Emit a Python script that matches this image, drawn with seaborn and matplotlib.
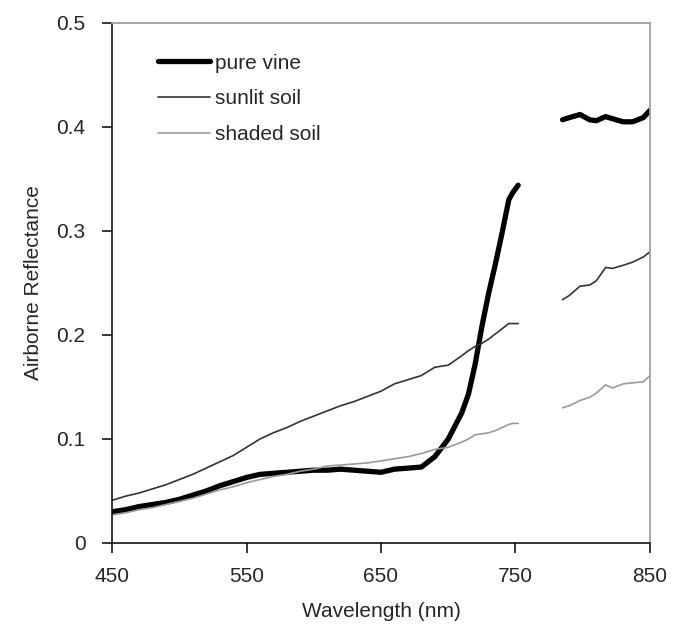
import matplotlib
matplotlib.use("Agg")
import matplotlib.pyplot as plt
import numpy as np
import pandas as pd
import seaborn as sns

# wavelengths (nm) - two measured bands, gap in between (water absorption / sensor gap)
wl_band1 = [450, 460, 470, 480, 490, 500, 510, 520, 530, 540, 550, 560, 570, 580,
            590, 600, 610, 620, 630, 640, 650, 660, 670, 680, 690, 700, 710,
            715, 720, 725, 730, 735, 740, 745, 748, 752]
wl_band2 = [785, 790, 798, 805, 810, 817, 822, 830, 837, 845, 850]

vine_band1 = [0.030, 0.032, 0.035, 0.037, 0.039, 0.042, 0.046, 0.050, 0.055, 0.059,
              0.063, 0.066, 0.067, 0.068, 0.069, 0.070, 0.070, 0.071, 0.070, 0.069,
              0.068, 0.071, 0.072, 0.073, 0.083, 0.100, 0.125,
              0.143, 0.172, 0.208, 0.240, 0.268, 0.298, 0.330, 0.337, 0.344]
vine_band2 = [0.407, 0.409, 0.412, 0.407, 0.406, 0.410, 0.408, 0.405, 0.405, 0.409, 0.416]

sunlit_band1 = [0.041, 0.045, 0.048, 0.052, 0.056, 0.061, 0.066, 0.072, 0.078, 0.084,
                0.092, 0.100, 0.106, 0.111, 0.117, 0.122, 0.127, 0.132, 0.136, 0.141,
                0.146, 0.153, 0.157, 0.161, 0.169, 0.171, 0.180,
                0.185, 0.189, 0.192, 0.196, 0.201, 0.206, 0.211, 0.211, 0.211]
sunlit_band2 = [0.234, 0.238, 0.247, 0.248, 0.252, 0.265, 0.264, 0.267, 0.270, 0.275, 0.280]

shaded_band1 = [0.027, 0.029, 0.032, 0.034, 0.037, 0.040, 0.043, 0.047, 0.051, 0.054,
                0.058, 0.061, 0.064, 0.066, 0.069, 0.071, 0.074, 0.075, 0.076, 0.077,
                0.079, 0.081, 0.083, 0.086, 0.090, 0.092, 0.097,
                0.100, 0.104, 0.105, 0.106, 0.108, 0.111, 0.114, 0.115, 0.115]
shaded_band2 = [0.130, 0.132, 0.137, 0.140, 0.144, 0.152, 0.149, 0.153, 0.154, 0.155, 0.161]

series = {
    "pure vine": (vine_band1, vine_band2),
    "sunlit soil": (sunlit_band1, sunlit_band2),
    "shaded soil": (shaded_band1, shaded_band2),
}
styles = {
    "pure vine": dict(color="black", lw=3.8),
    "sunlit soil": dict(color="#333333", lw=1.2),
    "shaded soil": dict(color="#999999", lw=1.2),
}

rows = []
for name, (b1, b2) in series.items():
    for w, r in zip(wl_band1, b1):
        rows.append((w, r, name, 1))
    for w, r in zip(wl_band2, b2):
        rows.append((w, r, name, 2))
df = pd.DataFrame(rows, columns=["wavelength", "reflectance", "series", "band"])

sns.set_style("ticks")
plt.rcParams["font.family"] = ["Liberation Sans", "DejaVu Sans"]

fig = plt.figure(figsize=(6.88, 6.28), dpi=100)
ax = fig.add_axes([112 / 688, 85 / 628, 538 / 688, 520 / 628])

for name in series:
    st = styles[name]
    for band in (1, 2):
        sub = df[(df.series == name) & (df.band == band)]
        sns.lineplot(data=sub, x="wavelength", y="reflectance", ax=ax,
                     color=st["color"], linewidth=st["lw"],
                     label=name if band == 1 else None,
                     solid_capstyle="round", estimator=None, sort=False)

ax.set_xlim(450, 850)
ax.set_ylim(0, 0.5)
ax.set_xticks([450, 550, 650, 750, 850])
ax.set_yticks([0, 0.1, 0.2, 0.3, 0.4, 0.5])
ax.set_yticklabels(["0", "0.1", "0.2", "0.3", "0.4", "0.5"])

ax.set_xlabel("Wavelength (nm)", fontsize=15, labelpad=12)
ax.set_ylabel("Airborne Reflectance", fontsize=15, labelpad=10)
ax.tick_params(axis="both", labelsize=15, length=7, width=1.1, color="black",
               direction="out")
ax.tick_params(axis="y", pad=12)
ax.tick_params(axis="x", pad=10)

for s in ("left", "bottom"):
    ax.spines[s].set_color("black")
    ax.spines[s].set_linewidth(1.1)
for s in ("top", "right"):
    ax.spines[s].set_visible(True)
    ax.spines[s].set_color("#a0a0a0")
    ax.spines[s].set_linewidth(1.3)

ax.legend(loc="upper left", bbox_to_anchor=(0.07, 0.957), borderaxespad=0,
          frameon=False, fontsize=15, handlelength=2.5, handletextpad=0.25,
          labelspacing=0.8)

fig.savefig("out.png", dpi=100)
